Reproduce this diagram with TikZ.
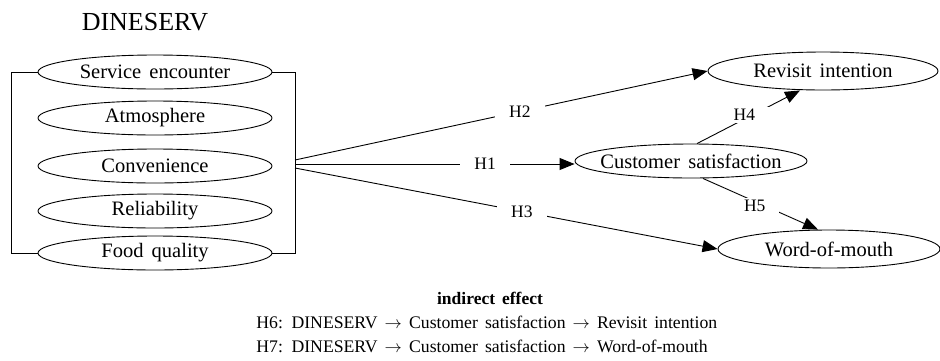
\documentclass[tikz,border=0pt]{standalone}
\usepackage{fontspec}
\setmainfont[WordSpace=1.6]{Liberation Serif}
\usetikzlibrary{shapes.geometric,arrows.meta,calc}
\begin{document}
\begin{tikzpicture}[x=1pt,y=-1pt,line width=0.9pt,
    construct/.style={draw,ellipse,inner xsep=-12pt,inner ysep=0pt,
      minimum width=234pt,minimum height=34pt,font=\fontsize{20.5}{24}\selectfont},
    hyp/.style={fill=white,inner xsep=14pt,inner ysep=2pt,font=\fontsize{17.5}{20}\selectfont},
    effect/.style={-{Triangle[length=15pt,width=12pt]}},
    note/.style={anchor=west,inner sep=0pt,font=\fontsize{17.7}{20}\selectfont}]
  \useasboundingbox (0,0) rectangle (940,360);
  \node[font=\fontsize{26}{30}\selectfont] (dineserv) at (145,22) {DINESERV};
  \node[construct] (se) at (155,72) {Service encounter};
  \node[construct] (atm) at (155,118) {Atmosphere};
  \node[construct] (conv) at (155,166) {Convenience};
  \node[construct] (rel) at (155,211) {Reliability};
  \node[construct] (fq) at (155,253) {Food quality};
  \node[construct,minimum width=230pt,minimum height=38pt] (ri) at (823,71) {Revisit intention};
  \node[construct,minimum width=232pt] (cs) at (691,161) {Customer satisfaction};
  \node[construct,minimum width=222pt,minimum height=38pt] (wom) at (829,249) {Word-of-mouth};
  % bracket round the five dimensions
  \draw[line width=0.7pt] (se.west) -- ++(-26,0) |- (fq.west);
  \draw[line width=0.7pt] (se.east) -- ++(23,0) |- (fq.east);
  \coordinate (hub2) at (295,160);
  \coordinate (hub1) at (295,164);
  \coordinate (hub3) at (295,168);
  \begin{scope}[effect]
    \draw (hub1) -- node[hyp,pos=0.68] (h1) {H1} (hub1 -| cs.west);
    \draw (hub2) -- node[hyp,pos=0.545] (h2) {H2} (ri.west);
    \draw (hub3) -- node[hyp,pos=0.537] (h3) {H3} (wom.west);
    \draw ($(cs.north)+(6,0)$) -- node[hyp,pos=0.46,yshift=4pt] (h4) {H4} ($(ri.south)+(-23,0)$);
    \draw ($(cs.south)+(12,0)$) -- node[hyp,pos=0.45,yshift=-4pt] (h5) {H5} ($(wom.north)+(-11,0)$);
  \end{scope}
  \node[font=\bfseries\fontsize{17.5}{20}\selectfont] (indirect) at (490,298) {indirect effect};
  \node[note] (h6) at (256,322) {H6: DINESERV $\rightarrow$ Customer satisfaction $\rightarrow$ Revisit intention};
  \node[note] (h7) at (256,346) {H7: DINESERV $\rightarrow$ Customer satisfaction $\rightarrow$ Word-of-mouth};
\end{tikzpicture}
\end{document}
